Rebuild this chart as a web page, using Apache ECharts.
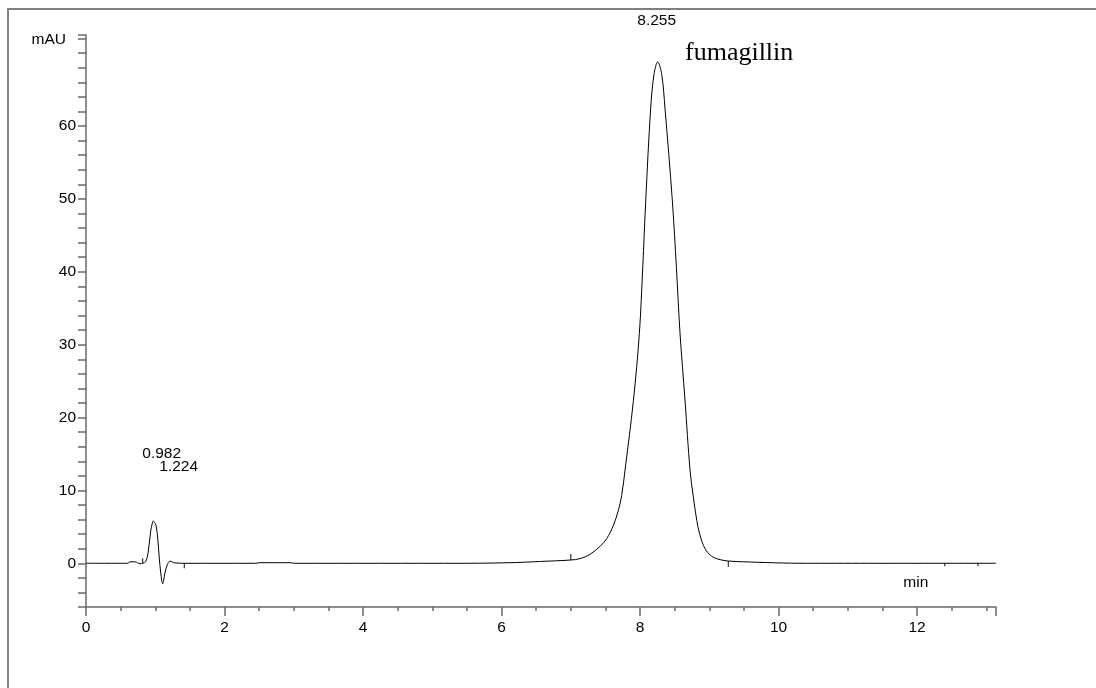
<!DOCTYPE html>
<html>
<head>
<meta charset="utf-8">
<script src="https://cdn.jsdelivr.net/npm/echarts@6/dist/echarts.min.js"></script>
<style>
html,body{margin:0;padding:0;background:#fff;}
#chart{width:1096px;height:688px;}
</style>
</head>
<body>
<div id="chart"></div>
<script>
// Retention time (min) and absorbance (mAU)
var times = [0.00,0.60,0.635,0.708,0.78,0.818,0.866,0.90,0.934,0.955,0.972,0.99,1.011,1.035,1.059,1.078,1.095,1.107,1.12,1.141,1.174,1.213,1.25,1.285,1.42,
  2.45,2.5,2.95,3.0,5.5,6.2,6.56,7.0,7.134,7.278,7.422,7.519,7.615,7.687,7.735,7.783,7.904,7.99,8.039,8.082,8.154,8.202,8.255,8.313,8.36,8.467,8.525,8.578,8.65,8.722,8.77,8.819,8.866,8.939,9.035,9.155,9.275,9.5,9.83,10.31,13.14];
var mAU = [0,0,0.2,0.2,-0.05,0,0.3,1.7,4.4,5.4,5.8,5.6,5.2,3.5,0.6,-1.2,-2.4,-2.8,-2.4,-1.3,-0.2,0.3,0.15,0.05,0,
  0,0.08,0.08,0,0,0.1,0.25,0.45,0.64,1.23,2.33,3.38,5.2,7.26,9.3,12.76,22.3,31.5,40.6,49.7,62.5,67.1,68.8,67.1,62.5,49.7,40.6,31.5,22.3,12.76,9.1,5.9,3.84,2.0,0.96,0.5,0.31,0.2,0.1,0,0];

// integration event markers (time, value on trace, direction: 1 up, -1 down)
var markerTimes = [0.818, 1.42, 7.0, 9.275, 12.40, 12.88];
var markerValues = [0, 0, 0.45, 0.31, 0, 0];
var markerDir = [1, -1, 1, -1, -1, -1];
var markerLen = [5, 5, 6, 6, 3, 3];

// y / x tick labels shown (others hidden)
var yTickLabels = [0, 10, 20, 30, 40, 50, 60];
var xTickLabels = [0, 2, 4, 6, 8, 10, 12];

// peak annotations
var peakLabels = ['0.982', '1.224', '8.255'];
var compoundName = 'fumagillin';
var xAxisName = 'min';
var yAxisName = 'mAU';

var xMin = 0, xMax = 13.14, yMin = -6, yMax = 72.5;

var traceData = times.map(function (t, i) { return [t, mAU[i]]; });
var upMarks = [], downMarks = [];
markerTimes.forEach(function (t, i) {
  var item = { value: [t, markerValues[i]], symbolSize: [1.2, markerLen[i]],
    symbolOffset: [0, markerDir[i] > 0 ? -markerLen[i] / 2 : markerLen[i] / 2] };
  (markerDir[i] > 0 ? upMarks : downMarks).push(item);
});

function inList(list, v) {
  for (var i = 0; i < list.length; i++) { if (Math.abs(list[i] - v) < 1e-6) return true; }
  return false;
}

var FONT = '"Liberation Sans", Arial, sans-serif';
var AXIS_COLOR = '#6a6a6a';

var chart = echarts.init(document.getElementById('chart'), null, { renderer: 'canvas' });
var option = {
  animation: false,
  backgroundColor: '#fff',
  grid: { left: 86, top: 35, width: 910, height: 572, containLabel: false },
  xAxis: [{
    type: 'value', min: xMin, max: xMax, interval: 2, position: 'bottom',
    axisLine: { show: true, onZero: false, lineStyle: { color: AXIS_COLOR, width: 1.5 } },
    axisTick: { show: true, length: 9, lineStyle: { color: AXIS_COLOR, width: 1.5 } },
    axisLabel: { show: true, margin: 13, color: '#000', fontSize: 15.5, fontFamily: FONT,
      formatter: function (v) { return inList(xTickLabels, v) ? String(v) : ''; } },
    splitLine: { show: false }
  }, {
    type: 'value', min: xMin, max: xMax, interval: 0.5, position: 'bottom', gridIndex: 0,
    axisLine: { show: false, onZero: false },
    axisTick: { show: true, length: 4, lineStyle: { color: AXIS_COLOR, width: 1.5 } },
    axisLabel: { show: false },
    splitLine: { show: false }
  }],
  yAxis: [{
    type: 'value', min: yMin, max: yMax, interval: 2, position: 'left',
    axisLine: { show: true, onZero: false, lineStyle: { color: AXIS_COLOR, width: 1.5 } },
    axisTick: { show: true, length: 8, lineStyle: { color: AXIS_COLOR, width: 1.5 } },
    axisLabel: { show: true, margin: 10, color: '#000', fontSize: 15.5, fontFamily: FONT,
      formatter: function (v) { return inList(yTickLabels, v) ? String(v) : ''; } },
    splitLine: { show: false }
  }],
  series: [{
    type: 'line', xAxisIndex: 0, yAxisIndex: 0, data: traceData,
    showSymbol: false, symbol: 'none', smooth: 0.35,
    lineStyle: { color: '#000', width: 1 }, silent: true
  }, {
    type: 'scatter', xAxisIndex: 0, yAxisIndex: 0, data: upMarks, symbol: 'rect',
    itemStyle: { color: '#000' }, silent: true
  }, {
    type: 'scatter', xAxisIndex: 0, yAxisIndex: 0, data: downMarks, symbol: 'rect',
    itemStyle: { color: '#000' }, silent: true
  }],
  graphic: [
    { type: 'rect', shape: { x: 8, y: 9, width: 1300, height: 900 },
      style: { fill: 'none', stroke: '#7f7f7f', lineWidth: 2 }, silent: true },
    { type: 'text', x: 48.7, y: 39.5, style: { text: yAxisName, font: '15.5px ' + FONT, fill: '#000', align: 'center', verticalAlign: 'middle' } },
    { type: 'text', x: 915.8, y: 583, style: { text: xAxisName, font: '15.5px ' + FONT, fill: '#000', align: 'center', verticalAlign: 'middle' } },
    { type: 'text', x: 161.7, y: 454.2, style: { text: peakLabels[0], font: '15.5px ' + FONT, fill: '#000', align: 'center', verticalAlign: 'middle' } },
    { type: 'text', x: 178.7, y: 467, style: { text: peakLabels[1], font: '15.5px ' + FONT, fill: '#000', align: 'center', verticalAlign: 'middle' } },
    { type: 'text', x: 656.7, y: 20.5, style: { text: peakLabels[2], font: '15.5px ' + FONT, fill: '#000', align: 'center', verticalAlign: 'middle' } },
    { type: 'text', x: 685, y: 53.2, style: { text: compoundName, font: '26px "Liberation Serif", "Times New Roman", serif', fill: '#000', align: 'left', verticalAlign: 'middle' } }
  ]
};
chart.setOption(option);
</script>
</body>
</html>
